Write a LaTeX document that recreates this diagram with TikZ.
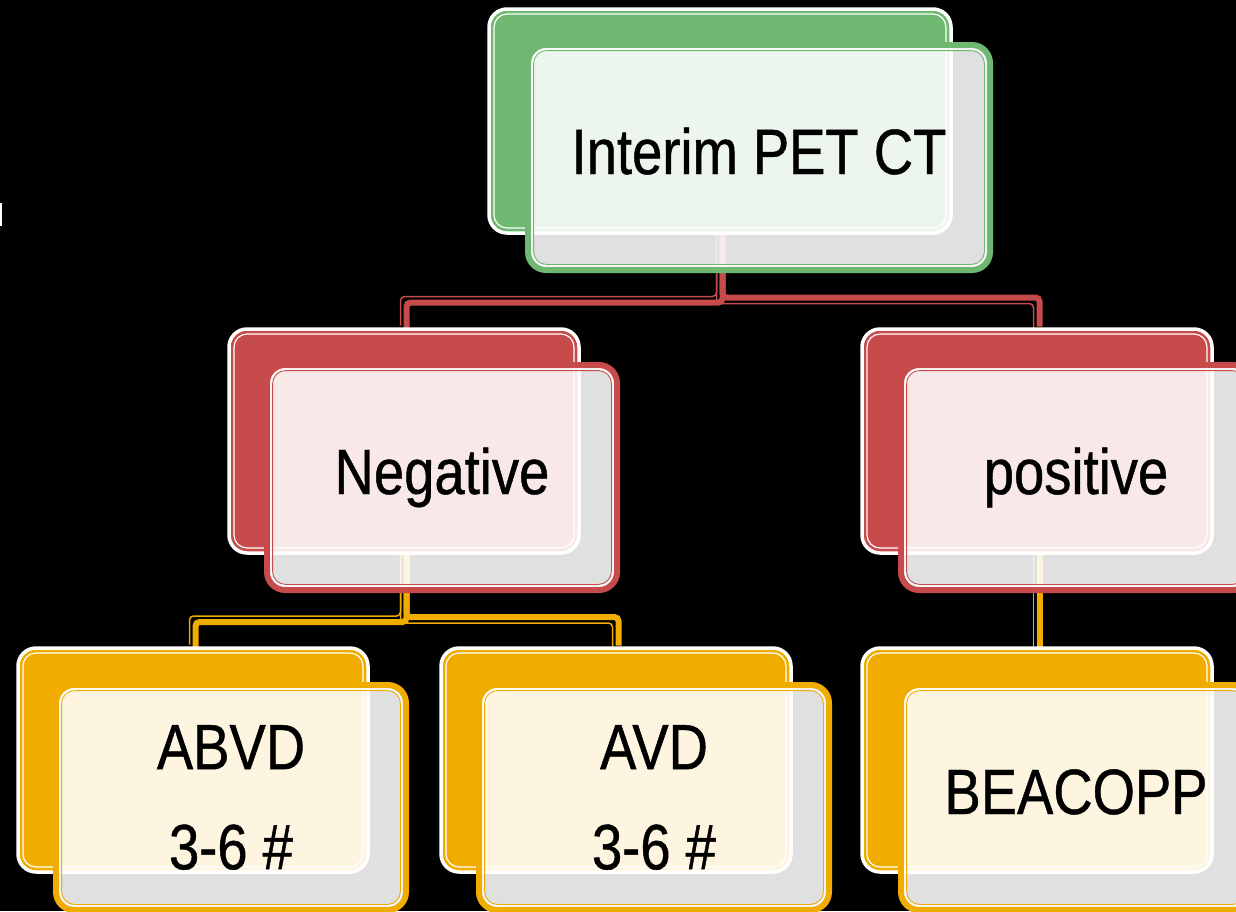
\documentclass[tikz,border=0pt]{standalone}
\usepackage{fontspec}
\setmainfont{Liberation Sans}[FakeStretch=0.85,FakeBold=0.7]
\definecolor{leafgreen}{RGB}{110,184,113}
\definecolor{brickred}{RGB}{198,75,74}
\definecolor{amber}{RGB}{240,173,0}
\pgfdeclarelayer{canvaslayer}
\pgfdeclarelayer{linklayer}
\pgfsetlayers{canvaslayer,linklayer,main}
\begin{document}
\begin{tikzpicture}[x=1pt,y=-1pt,
  backbox/.style={rectangle, rounded corners=18pt, anchor=north west,
    outer sep=0pt, inner sep=0pt, fill=#1, draw=white, line width=3.5pt,
    minimum height=224pt},
  frontbox/.style={rectangle, rounded corners=18pt, anchor=north west,
    outer sep=0pt, inner sep=0pt, fill=white, fill opacity=0.88,
    text opacity=1, draw=#1, draw opacity=1, line width=6pt,
    minimum height=225pt, align=center,
    font=\fontsize{64}{100}\selectfont},
  oneline/.style={text height=46pt, text depth=13pt},
  backinner/.style={draw=white, line width=1.2pt, rounded corners=13pt},
  frontinner/.style={draw=white, line width=1.2pt, rounded corners=14pt},
  frontthin/.style={draw=#1, line width=0.8pt, rounded corners=13pt},
  linkthick/.style={draw=#1, line width=6pt, rounded corners=4pt},
  linkthin/.style={draw=#1, line width=1.5pt, rounded corners=4pt}
]
\useasboundingbox (0,0) rectangle (1236,911);
\clip (0,0) rectangle (1236,911);
\begin{pgfonlayer}{canvaslayer}
  \fill[black] (0,0) rectangle (1236,911);
  \fill[white] (0,203) rectangle (1.6,226);
\end{pgfonlayer}

% top level
\node[backbox=leafgreen, minimum width=462pt] (tb) at (489,9) {};
\draw[backinner] ([xshift=5pt,yshift=-5pt]tb.north west) rectangle ([xshift=-5pt,yshift=5pt]tb.south east);
\node[frontbox=leafgreen, oneline, minimum width=462pt] (tf) at (528,45) {Interim PET CT};
\draw[frontinner] ([xshift=4pt,yshift=-4pt]tf.north west) rectangle ([xshift=-4pt,yshift=4pt]tf.south east);
\draw[frontthin=leafgreen] ([xshift=5.6pt,yshift=-5.6pt]tf.north west) rectangle ([xshift=-5.6pt,yshift=5.6pt]tf.south east);

% second level
\node[backbox=brickred, minimum width=350pt] (nb) at (229,329) {};
\draw[backinner] ([xshift=5pt,yshift=-5pt]nb.north west) rectangle ([xshift=-5pt,yshift=5pt]nb.south east);
\node[frontbox=brickred, oneline, minimum width=350pt] (nf) at (267,365) {Negative};
\draw[frontinner] ([xshift=4pt,yshift=-4pt]nf.north west) rectangle ([xshift=-4pt,yshift=4pt]nf.south east);
\draw[frontthin=brickred] ([xshift=5.6pt,yshift=-5.6pt]nf.north west) rectangle ([xshift=-5.6pt,yshift=5.6pt]nf.south east);

\node[backbox=brickred, minimum width=350pt] (pb) at (862,329) {};
\draw[backinner] ([xshift=5pt,yshift=-5pt]pb.north west) rectangle ([xshift=-5pt,yshift=5pt]pb.south east);
\node[frontbox=brickred, oneline, minimum width=350pt] (pf) at (901,365) {positive};
\draw[frontinner] ([xshift=4pt,yshift=-4pt]pf.north west) rectangle ([xshift=-4pt,yshift=4pt]pf.south east);
\draw[frontthin=brickred] ([xshift=5.6pt,yshift=-5.6pt]pf.north west) rectangle ([xshift=-5.6pt,yshift=5.6pt]pf.south east);

% third level
\node[backbox=amber, minimum width=350pt] (ab) at (18,648) {};
\draw[backinner] ([xshift=5pt,yshift=-5pt]ab.north west) rectangle ([xshift=-5pt,yshift=5pt]ab.south east);
\node[frontbox=amber, minimum width=350pt] (af) at (56,685) {ABVD\\3-6 \#};
\draw[frontinner] ([xshift=4pt,yshift=-4pt]af.north west) rectangle ([xshift=-4pt,yshift=4pt]af.south east);
\draw[frontthin=amber] ([xshift=5.6pt,yshift=-5.6pt]af.north west) rectangle ([xshift=-5.6pt,yshift=5.6pt]af.south east);

\node[backbox=amber, minimum width=350pt] (vb) at (441,648) {};
\draw[backinner] ([xshift=5pt,yshift=-5pt]vb.north west) rectangle ([xshift=-5pt,yshift=5pt]vb.south east);
\node[frontbox=amber, minimum width=350pt] (vf) at (479,685) {AVD\\3-6 \#};
\draw[frontinner] ([xshift=4pt,yshift=-4pt]vf.north west) rectangle ([xshift=-4pt,yshift=4pt]vf.south east);
\draw[frontthin=amber] ([xshift=5.6pt,yshift=-5.6pt]vf.north west) rectangle ([xshift=-5.6pt,yshift=5.6pt]vf.south east);

\node[backbox=amber, minimum width=350pt] (eb) at (862,648) {};
\draw[backinner] ([xshift=5pt,yshift=-5pt]eb.north west) rectangle ([xshift=-5pt,yshift=5pt]eb.south east);
\node[frontbox=amber, oneline, minimum width=350pt] (ef) at (901,685) {BEACOPP};
\draw[frontinner] ([xshift=4pt,yshift=-4pt]ef.north west) rectangle ([xshift=-4pt,yshift=4pt]ef.south east);
\draw[frontthin=amber] ([xshift=5.6pt,yshift=-5.6pt]ef.north west) rectangle ([xshift=-5.6pt,yshift=5.6pt]ef.south east);

% connectors: a thick and a thin stroke side by side
\begin{pgfonlayer}{linklayer}
  \draw[linkthick=brickred, transform canvas={shift={(2.5pt,-2.5pt)}}] (tb.south) -- ++(0,67) -| (nb.north);
  \draw[linkthin=brickred, transform canvas={shift={(-3.5pt,3.5pt)}}] (tb.south) -- ++(0,67) -| (nb.north);
  \draw[linkthick=brickred, transform canvas={shift={(2.5pt,2.5pt)}}] (tb.south) -- ++(0,67) -| (pb.north);
  \draw[linkthin=brickred, transform canvas={shift={(-3.5pt,-3.5pt)}}] (tb.south) -- ++(0,67) -| (pb.north);

  \draw[linkthick=amber, transform canvas={shift={(2.5pt,-2.5pt)}}] (nb.south) -- ++(0,66.5) -| (ab.north);
  \draw[linkthin=amber, transform canvas={shift={(-3.5pt,3.5pt)}}] (nb.south) -- ++(0,66.5) -| (ab.north);
  \draw[linkthick=amber, transform canvas={shift={(2.5pt,2.5pt)}}] (nb.south) -- ++(0,66.5) -| (vb.north);
  \draw[linkthin=amber, transform canvas={shift={(-3.5pt,-3.5pt)}}] (nb.south) -- ++(0,66.5) -| (vb.north);

  \draw[linkthick=amber, transform canvas={shift={(2.5pt,0pt)}}] (pb.south) -- (eb.north);
  \draw[linkthin=amber, transform canvas={shift={(-3.5pt,0pt)}}] (pb.south) -- (eb.north);
\end{pgfonlayer}
\end{tikzpicture}
\end{document}
